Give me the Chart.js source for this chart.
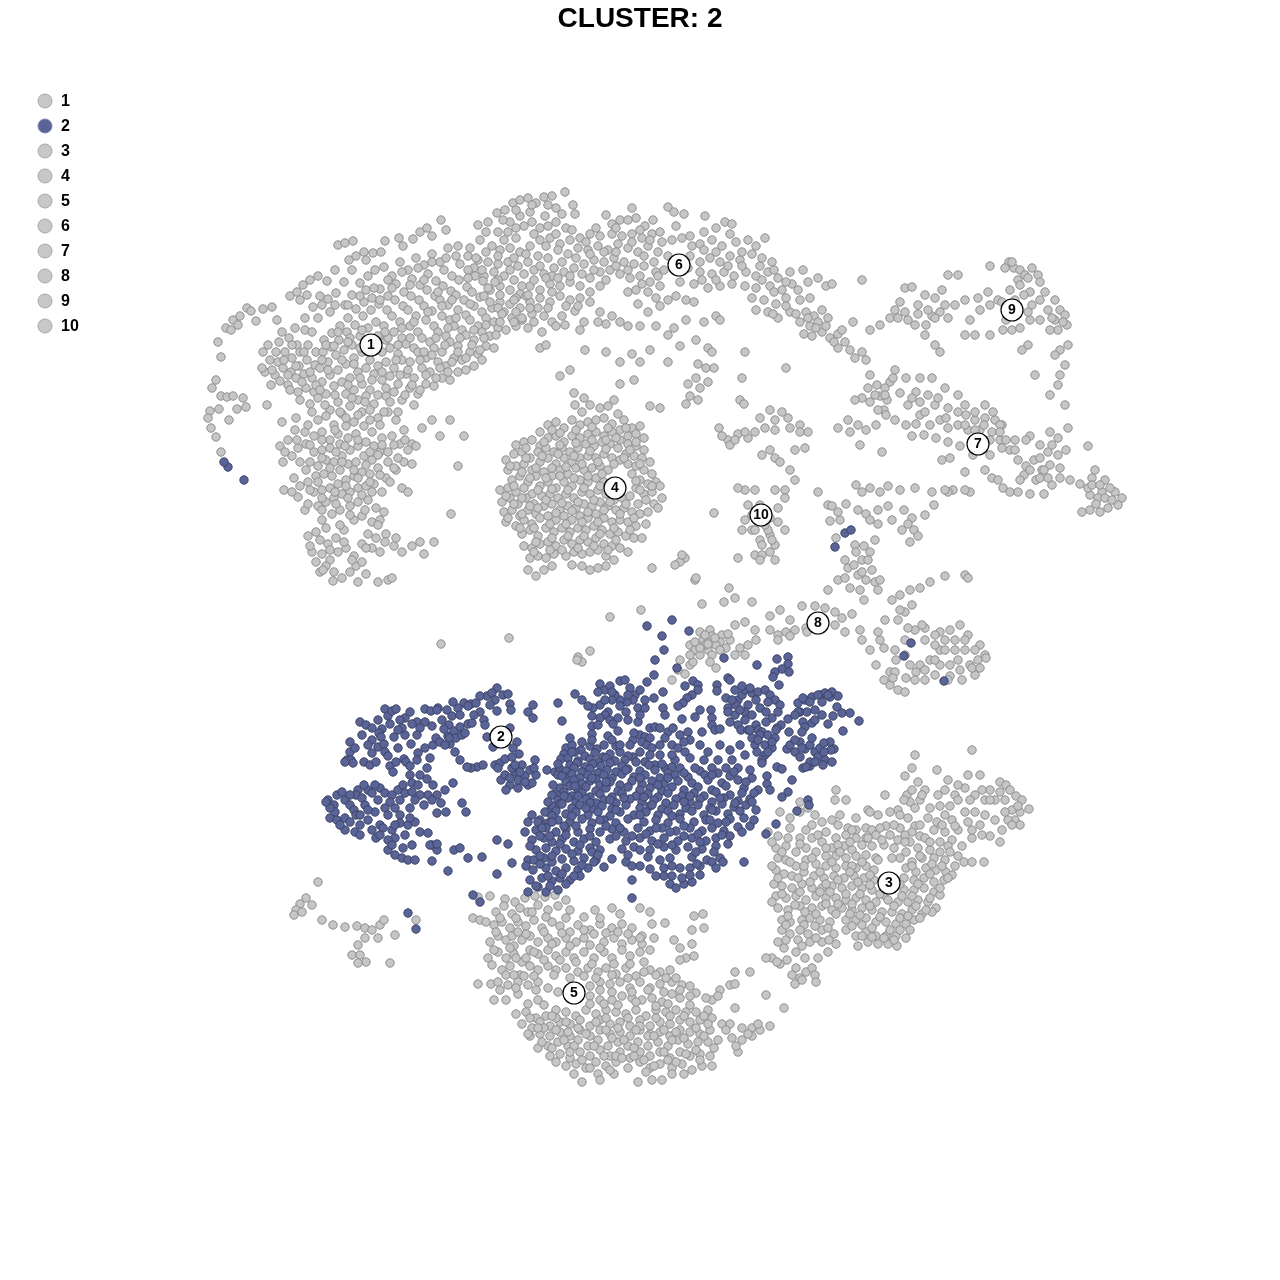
<!DOCTYPE html>
<html><head><meta charset="utf-8">
<script src="https://cdn.jsdelivr.net/npm/chart.js@4"></script>
<style>html,body{margin:0;padding:0;background:#fff}canvas{display:block}</style>
</head><body><canvas id="c" width="1280" height="1280"></canvas>
<script>
const clusterNames=["1","2","3","4","5","6","7","8","9","10"];
const labelX=[371,501,889,615,574,679,978,818,1012,761];
const labelY=[345,737,883,488,993,265,444,623,310,515];
const cluster1=[
218,342,221,357,226,328,233,320,240,316,247,308,251,311,256,321,263,309,272,307,277,320,238,325,231,330,
216,380,212,388,221,396,210,411,208,418,219,409,227,397,233,396,243,398,246,407,237,409,229,420,211,428,216,437,221,452,
267,405,263,352,270,360,265,372,262,368,276,352,279,342,289,338,297,345,290,296,297,292,303,285,310,280,318,276,327,281,335,270,
338,245,345,243,353,241,349,260,356,256,364,252,366,260,373,253,381,252,385,241,399,238,403,246,413,239,420,232,427,228,432,236,441,220,446,230,
300,300,307,295,313,307,320,296,328,299,336,293,344,282,352,270,360,283,368,276,375,270,384,267,392,276,400,262,408,270,416,258,424,265,432,254,440,262,448,248,456,256,
278,362,285,352,292,358,300,352,308,345,316,352,324,340,332,333,340,326,348,318,356,309,364,302,372,298,380,289,388,296,396,284,404,292,412,279,420,285,428,274,436,281,444,270,452,276,460,264,468,270,476,258,
275,375,283,368,291,372,299,366,307,360,315,365,323,352,331,347,339,340,347,332,355,325,363,316,371,310,379,304,387,310,395,300,403,306,411,296,419,300,427,290,435,296,443,286,451,291,459,280,467,287,475,276,483,281,
271,385,280,381,288,385,296,378,304,374,312,378,320,368,328,362,336,355,344,350,352,345,360,336,368,328,376,322,384,326,392,316,400,322,408,310,416,316,424,306,432,311,440,300,448,305,456,295,464,300,472,292,480,297,488,288,
298,392,306,388,314,392,322,382,330,375,338,370,346,364,354,358,362,352,370,360,378,336,386,340,394,332,402,338,410,326,418,332,426,320,434,326,442,316,450,320,458,310,466,315,474,306,482,312,490,302,498,308,
310,404,318,398,326,394,334,386,342,382,350,378,358,372,366,368,374,374,382,352,390,348,398,354,406,344,414,348,422,338,430,342,438,332,446,336,454,326,462,330,470,320,478,326,486,318,494,322,502,314,
330,410,338,402,346,394,354,390,362,384,370,390,378,366,386,362,394,368,402,360,410,362,418,352,426,358,434,348,442,352,450,342,458,346,466,335,474,340,482,332,490,336,498,328,506,330,514,322,522,318,
318,420,326,416,334,425,342,414,350,406,358,400,366,396,374,404,382,380,390,376,398,384,406,374,414,378,422,368,430,372,438,362,446,366,454,358,462,360,470,352,478,354,486,346,494,348,
282,422,296,418,305,432,314,436,322,432,330,440,338,434,346,426,354,422,362,412,370,410,378,418,386,396,394,392,402,400,410,388,418,394,426,384,434,386,442,378,450,380,458,372,466,370,474,366,482,360,
280,446,288,440,298,448,306,444,314,452,322,450,330,448,340,444,348,438,356,434,364,426,372,432,380,425,388,412,396,420,404,430,412,444,422,428,432,420,440,436,450,420,464,436,
283,462,292,456,300,462,310,462,318,466,326,460,334,462,342,456,350,450,358,446,366,442,374,446,382,438,392,436,400,444,408,450,416,446,
284,490,292,492,300,486,308,482,316,476,324,474,332,476,340,470,348,464,356,462,364,456,372,460,380,452,388,452,396,470,404,462,412,464,458,466,
298,497,305,510,314,492,322,490,330,488,338,484,346,480,354,476,362,472,370,474,378,468,386,478,394,468,402,488,408,492,
308,504,318,506,326,502,334,498,342,494,350,492,358,488,366,486,374,484,382,492,
322,520,332,514,340,510,350,506,358,502,368,500,376,508,384,512,
308,536,312,552,320,540,328,544,336,538,344,530,354,520,362,516,372,522,380,520,368,534,376,538,386,534,394,546,402,552,412,546,420,542,434,542,
316,562,322,554,330,560,338,552,346,548,354,556,362,544,372,548,380,552,320,572,326,566,334,572,342,578,350,572,358,582,366,574,378,582,388,580,392,578,
310,546,356,566,362,562,323,570,333,581,451,514,
305,330,318,318,330,312,345,305,352,295,366,290,380,300,392,288,410,285,424,280,438,292,452,300,468,278,482,270,495,282,
292,345,304,352,312,332,326,345,338,332,350,338,362,330,375,345,388,338,402,328,414,322,428,312,442,306,456,318,470,304,484,296,500,295,514,300,528,295,
268,345,282,332,295,328,305,318,322,305,335,305,348,305,360,296,374,288,388,280,402,272,418,268,432,262,446,258,458,246,470,248,
284,360,296,366,310,372,322,360,334,346,348,342,360,348,372,352,385,332,398,345,410,338,424,352,436,338,448,328,460,338,474,330,486,325,500,322,516,312,530,308,
272,370,288,375,302,382,316,385,328,370,342,360,354,364,368,352,382,372,396,360,408,370,420,360,432,355,445,345,458,352,472,345,484,338,496,335,
290,390,300,400,320,390,335,395,348,385,360,378,372,380,386,388,400,375,412,385,426,375,440,368,452,362,466,358,480,350,
312,412,325,405,340,412,352,398,365,402,378,395,390,402,405,395,420,390,436,378,448,372,
295,430,308,425,322,440,335,430,346,418,358,415,370,420,384,412,398,412,414,405,
285,452,297,440,310,445,322,458,336,452,345,446,358,440,370,452,382,445,394,445,405,440,
294,478,306,470,318,482,330,468,342,462,354,470,366,465,378,455,388,462,398,458,
310,490,322,498,335,492,346,486,358,478,370,482,380,475,390,482,
322,510,336,504,348,498,362,495,372,492,
316,532,326,528,340,525,350,515,365,510,378,525,
330,550,344,542,352,560,366,548,385,542,396,538,424,554,
];
const cluster6=[
478,225,488,222,497,213,505,210,513,203,520,200,528,198,536,203,544,197,552,196,565,192,556,208,573,205,575,214,545,216,530,212,520,216,510,222,
498,232,508,232,516,238,524,226,532,222,540,228,548,226,556,222,566,228,480,240,492,246,500,250,510,248,520,252,530,246,540,240,550,238,560,244,570,240,580,238,590,234,600,236,
606,215,612,224,620,220,632,208,636,218,645,226,653,220,668,207,674,212,684,214,705,216,725,222,732,224,
612,234,622,236,632,234,642,238,652,234,662,242,672,240,682,238,692,246,700,244,712,240,722,246,736,242,748,240,765,238,
468,256,478,260,488,262,498,264,508,262,518,266,528,262,538,256,548,258,558,250,568,254,578,248,588,250,598,246,608,250,618,244,628,248,638,252,648,246,658,252,668,256,690,256,700,262,710,258,720,262,730,256,740,260,752,254,762,258,772,262,
484,276,494,272,504,276,514,280,524,274,534,270,544,274,554,268,564,272,574,268,584,264,594,260,604,262,614,258,624,262,634,264,644,266,654,262,664,270,700,272,712,274,724,272,734,276,746,272,756,276,768,272,778,278,790,272,803,270,
490,290,500,286,510,290,520,294,530,286,540,290,550,284,560,286,570,282,580,286,590,278,600,272,610,270,620,274,630,278,640,276,650,282,660,286,680,282,694,284,708,288,720,286,745,286,756,288,770,286,782,290,792,284,818,278,826,286,832,284,
500,302,510,304,520,308,530,302,540,298,550,302,560,296,570,300,580,298,590,292,600,286,628,292,636,290,648,292,656,298,676,296,
752,298,764,300,776,304,786,298,800,300,810,298,756,310,768,312,778,318,790,312,806,312,814,316,822,310,828,318,
512,318,522,320,532,314,544,316,552,322,562,316,575,311,584,322,600,312,612,316,620,322,638,304,648,312,660,306,668,300,686,300,694,302,716,316,
528,328,542,332,556,326,580,330,606,324,628,326,640,326,656,326,674,328,686,320,704,322,720,320,
800,322,810,326,818,322,804,334,812,336,822,332,830,338,838,334,845,342,850,350,838,348,853,322,862,352,
540,348,546,345,585,350,606,352,632,354,650,350,668,335,680,346,696,340,708,348,712,352,745,352,773,314,786,368,
698,364,706,368,714,368,742,378,696,378,708,382,688,384,700,388,690,396,698,400,686,404,650,406,660,408,
570,370,560,376,620,362,640,362,668,362,574,393,584,398,620,384,634,380,740,400,744,404,
503,220,516,210,532,205,548,205,562,214,486,232,504,240,516,228,534,234,546,246,556,234,572,230,586,242,596,228,
616,228,628,220,640,230,650,240,660,232,676,226,690,236,704,232,716,228,730,234,742,252,756,246,
474,268,486,252,498,256,514,258,526,254,540,266,552,276,562,262,576,258,590,254,604,252,616,252,632,242,644,256,656,272,
704,250,716,252,728,266,742,266,760,266,774,270,786,282,
498,280,510,270,522,286,534,280,546,278,558,278,570,276,582,274,594,270,606,280,616,266,628,270,642,284,658,276,
688,268,702,280,716,280,732,284,762,280,774,292,786,306,798,290,808,282,
516,298,526,296,538,308,552,292,566,306,578,306,590,302,
492,308,504,312,516,326,534,322,548,308,565,325,598,322,
796,314,808,318,816,328,826,326,834,342,842,330,855,358,866,360,
];
const cluster4=[
575,405,582,412,590,405,600,408,608,406,614,400,618,414,624,420,632,428,640,426,
540,432,548,425,556,422,564,428,572,420,580,425,588,422,596,420,604,418,612,424,620,430,628,436,636,434,644,438,
516,445,524,442,532,440,540,446,548,438,556,436,564,442,572,436,580,438,588,434,596,432,604,436,612,432,620,440,628,444,636,446,644,450,
506,460,514,454,522,452,530,458,538,452,546,448,554,452,562,448,570,452,578,448,586,444,594,446,602,442,610,444,618,448,626,454,634,456,642,458,650,462,
508,470,516,466,524,464,532,470,540,462,548,458,556,464,564,458,572,462,580,458,588,456,596,458,604,454,612,458,620,460,628,464,636,466,644,470,652,474,
512,480,520,476,528,482,536,476,544,472,552,476,560,470,568,474,576,468,584,470,592,468,600,466,608,470,632,474,640,480,648,484,656,482,
500,490,508,488,516,492,524,488,532,494,540,486,548,482,556,488,564,482,572,486,580,480,588,482,596,478,604,482,636,488,644,494,652,492,660,486,
502,502,510,498,518,504,526,498,534,504,542,496,550,494,558,498,566,494,574,498,582,492,590,494,598,490,606,494,614,500,622,498,630,496,638,504,646,500,654,504,662,498,
504,512,512,510,520,516,528,510,536,514,544,506,552,504,560,510,568,506,576,508,584,504,592,506,600,502,608,506,616,510,624,508,632,512,640,514,648,512,658,508,
506,522,516,526,524,520,532,524,540,518,548,516,556,520,564,516,572,520,580,516,588,518,596,514,604,518,612,522,620,520,628,522,636,526,646,524,
522,534,530,530,538,536,546,528,554,532,562,528,570,532,578,528,586,530,594,526,602,530,610,534,618,532,626,536,634,538,642,538,
524,546,532,548,540,544,548,542,556,546,564,540,572,544,580,540,588,542,596,538,604,544,612,546,620,548,
530,558,538,556,546,558,554,554,566,556,574,552,582,554,590,552,598,550,606,556,614,560,628,552,
528,570,536,576,544,570,552,566,572,565,582,566,590,570,598,568,606,566,
552,430,560,433,576,430,592,427,608,428,626,428,636,442,
526,448,544,442,560,445,576,443,592,440,606,440,616,438,630,450,
510,466,526,458,542,456,558,454,574,456,590,451,606,449,624,458,640,464,
522,472,536,468,552,468,566,467,582,464,598,462,614,464,
514,486,530,478,546,478,560,476,574,478,588,476,602,474,636,481,
506,496,522,498,538,490,552,489,568,490,584,488,600,486,640,490,652,486,
514,504,530,506,546,500,562,503,578,502,594,500,610,502,626,504,
508,518,522,514,538,508,556,513,572,511,588,512,604,510,620,514,634,518,
520,528,534,528,550,524,566,524,582,522,598,522,614,528,630,530,
536,542,552,538,568,536,584,536,600,534,616,540,
534,552,550,550,562,550,578,548,594,546,608,550,
];
const cluster2=[
487,696,497,688,492,693,503,695,508,694,495,700,480,696,471,704,464,703,458,708,453,702,447,710,438,708,452,716,468,706,476,703,480,712,484,720,497,711,510,704,511,710,
449,725,454,731,460,727,448,736,456,738,462,735,468,724,444,729,450,744,465,733,472,723,485,725,
385,709,388,716,392,711,396,709,405,718,410,712,417,722,425,709,431,711,437,710,425,722,420,728,412,724,417,735,405,735,411,744,400,720,
360,722,366,725,382,729,379,733,381,737,372,740,368,745,378,747,372,753,394,737,398,748,425,748,433,745,436,738,440,742,449,738,445,745,455,752,460,760,477,767,471,768,467,767,483,765,495,765,500,763,498,768,
350,742,350,752,347,760,351,760,353,763,345,762,364,762,370,765,385,752,388,756,404,759,390,766,393,772,396,762,418,753,417,760,430,758,427,768,406,762,410,766,
328,800,337,795,342,792,334,805,345,800,330,818,337,820,345,818,350,805,358,790,356,795,354,810,362,798,368,790,365,805,372,793,380,788,385,793,378,800,385,808,392,795,398,790,403,785,410,775,412,783,420,775,427,779,433,785,428,795,437,795,441,803,445,790,420,795,415,800,405,793,410,808,395,808,400,815,388,815,375,812,368,820,380,825,372,830,360,825,355,832,345,830,340,825,356,815,
392,830,400,823,408,825,415,822,420,832,405,835,412,845,395,838,388,840,383,828,376,838,395,855,402,858,408,860,415,860,403,848,432,845,437,850,
453,783,462,803,466,812,437,813,446,812,428,833,430,845,437,844,454,850,460,848,468,858,482,857,432,861,448,871,497,840,508,844,512,863,528,860,497,874,
501,780,505,775,510,785,515,772,518,788,522,765,525,776,530,770,535,760,528,785,518,780,506,790,512,768,532,783,536,775,510,778,520,772,547,770,555,772,
487,737,493,747,510,728,517,742,513,748,519,754,505,759,512,757,533,705,528,712,533,718,558,703,562,721,575,694,
647,626,672,620,689,631,662,636,664,650,655,660,677,668,654,675,647,682,
600,684,605,690,610,686,620,681,625,680,630,688,635,695,640,690,633,700,627,702,638,708,645,708,620,700,615,695,612,700,608,712,600,705,593,708,588,706,592,716,605,715,600,718,610,720,620,706,626,712,618,718,592,726,592,734,608,736,613,724,618,731,
633,740,630,745,638,722,640,735,645,737,650,728,655,727,642,742,647,745,652,748,660,728,668,732,673,728,665,738,672,745,680,735,688,732,690,740,678,748,660,755,650,755,640,752,633,757,645,762,655,765,665,768,675,760,685,752,690,758,
726,698,728,708,735,690,738,700,742,695,745,690,748,705,752,693,758,692,765,690,770,695,775,700,780,705,735,715,745,712,752,715,760,708,766,712,772,718,756,725,745,720,738,725,730,722,728,712,741,730,758,730,762,732,
777,659,788,657,788,664,782,669,789,672,775,672,773,677,779,685,757,665,724,658,728,678,730,680,
693,681,698,685,685,686,698,690,717,685,717,691,742,686,663,692,654,698,692,695,687,698,683,703,678,706,663,708,665,715,682,719,695,717,700,710,711,710,712,718,712,725,702,732,715,730,720,729,
798,703,800,712,805,700,812,697,820,695,825,693,830,697,832,692,803,698,807,712,815,710,818,695,828,695,837,707,842,713,850,713,859,721,828,724,833,716,822,715,798,712,803,722,805,727,812,723,802,732,788,719,781,725,777,728,789,732,843,731,
787,749,790,745,795,752,800,742,805,749,800,757,810,745,815,752,818,757,820,748,825,760,823,765,830,742,834,749,824,743,831,750,810,766,803,768,810,762,806,767,
760,735,768,735,775,738,755,745,765,745,772,748,757,752,765,755,762,760,772,742,752,738,762,763,777,767,782,769,767,776,792,780,767,784,770,790,788,792,782,797,808,800,809,805,797,811,776,824,766,834,
566,748,572,745,581,750,590,746,597,749,616,746,564,754,575,752,585,756,595,753,603,757,610,754,620,752,628,756,561,759,568,758,578,761,590,759,598,762,606,758,615,761,625,760,
570,765,577,763,585,767,593,764,601,766,610,763,622,766,636,762,649,765,662,764,672,767,560,769,566,771,574,768,582,772,590,769,598,773,607,770,616,772,628,769,640,771,655,770,668,773,680,768,700,771,
558,775,565,777,572,774,580,778,588,775,596,779,604,775,612,778,622,774,634,777,645,775,660,778,675,775,688,777,705,775,718,773,730,776,566,782,574,780,582,784,590,781,600,785,610,782,620,785,632,781,642,784,652,781,664,784,678,781,692,783,708,780,722,783,738,780,752,778,
560,788,570,786,578,790,586,787,596,791,606,788,618,791,628,787,640,790,650,788,662,791,672,787,684,790,698,787,712,790,726,786,744,788,555,794,564,792,572,796,582,793,590,797,600,794,612,797,622,793,636,796,648,794,658,797,668,793,682,796,694,793,704,796,716,792,730,795,742,793,758,790,
558,800,568,798,576,802,586,799,596,803,604,800,616,803,630,799,642,802,654,800,666,803,676,799,690,802,700,799,712,802,724,798,738,801,750,799,552,806,560,804,572,808,580,805,592,809,602,806,612,809,626,805,640,808,650,806,662,809,674,805,686,808,698,805,710,808,722,804,734,807,746,805,
532,815,528,822,548,812,556,811,566,814,576,812,588,815,598,812,610,816,620,812,634,815,646,812,658,815,668,811,680,814,692,811,704,815,716,811,728,814,740,811,756,810,525,832,540,820,548,823,558,820,570,822,582,819,592,823,604,820,616,823,628,819,644,822,656,820,668,823,680,819,694,822,706,820,718,823,730,819,744,818,
536,830,546,828,556,832,566,829,578,832,590,829,600,832,612,829,624,832,638,828,650,831,662,828,676,831,690,828,702,831,712,828,724,831,738,827,750,826,532,840,544,838,552,842,562,839,574,842,584,839,596,842,610,839,626,841,640,838,652,841,664,838,678,841,692,838,706,841,716,838,730,836,
536,850,546,848,556,851,566,849,578,851,590,848,600,850,622,849,634,847,650,850,664,847,676,850,688,847,702,849,716,846,728,844,534,860,544,858,552,862,562,859,574,861,584,858,596,860,612,859,626,862,648,857,660,860,670,858,692,857,707,860,720,858,
533,870,546,868,556,871,566,868,578,870,588,868,604,867,632,866,650,869,664,868,672,866,680,868,690,868,700,866,712,862,723,862,
530,880,542,878,552,881,560,878,570,880,580,876,632,880,664,876,670,884,676,888,684,884,692,882,700,875,744,862,
528,892,538,887,546,892,558,890,632,898,473,895,480,902,
228,467,224,462,244,480,408,913,416,929,835,547,845,533,851,530,911,643,904,656,944,681,
378,720,390,724,402,728,372,728,362,735,355,748,376,762,384,744,398,730,432,726,442,720,460,715,474,715,490,705,
335,812,350,795,364,785,375,785,390,802,400,800,412,792,418,785,424,805,360,815,350,822,368,810,395,825,380,835,388,850,
330,808,326,802,360,835,392,845,410,818,432,800,515,765,525,782,534,768,
598,692,612,692,628,695,645,700,605,700,582,700,598,725,628,720,640,715,
736,705,756,700,768,702,750,688,732,700,740,710,766,722,748,730,778,712,
810,702,822,702,838,696,795,715,815,720,795,740,802,748,812,738,824,752,832,762,815,762,
758,740,768,752,776,730,750,730,
570,738,582,742,592,740,604,745,612,740,620,745,634,733,650,738,660,745,672,755,684,742,700,745,708,752,720,745,730,750,740,745,745,755,732,760,718,760,704,760,695,768,712,768,726,768,738,768,750,770,
553,785,552,795,548,802,545,812,538,822,572,752,558,764,
562,776,575,786,592,778,606,782,626,770,640,778,668,778,684,773,712,775,734,772,
564,796,578,796,590,803,610,800,624,798,644,797,658,785,690,796,720,798,746,782,754,793,
552,816,562,804,572,816,586,808,600,820,616,810,640,815,652,805,672,816,684,802,712,810,735,803,752,802,
542,828,552,822,564,826,576,826,590,836,606,826,620,828,632,836,656,828,670,832,684,826,698,834,710,820,726,822,742,832,754,820,
540,836,550,836,566,835,580,845,592,852,616,836,646,834,658,844,684,836,700,842,722,835,
530,846,540,856,552,856,560,844,572,854,582,865,598,855,628,855,640,850,672,845,696,852,714,852,
526,866,540,864,548,876,562,874,574,876,594,862,640,866,656,876,
536,886,550,886,566,884,690,875,682,878,672,876,697,864,716,868,
];
const cluster3=[
915,755,972,750,912,768,905,776,918,782,937,770,968,775,980,775,1000,782,1006,785,1010,790,1016,796,1022,800,1029,809,1020,812,1012,810,1005,812,990,790,982,790,975,795,965,788,955,795,945,790,938,795,
925,790,907,795,910,802,915,808,920,800,930,808,940,806,950,806,958,800,970,800,985,800,995,800,1005,800,1015,820,1020,825,1008,820,1002,830,1012,825,
904,800,898,810,890,812,885,795,868,810,846,800,836,790,835,800,856,818,870,812,878,815,900,815,908,818,915,826,928,818,937,822,945,815,952,820,965,812,975,812,985,815,995,820,
840,815,832,820,815,815,800,802,808,808,822,822,838,825,848,828,856,830,866,828,872,830,886,826,900,828,912,832,920,836,934,830,945,832,958,830,968,822,980,825,990,836,1000,842,984,862,
780,812,790,818,800,812,812,825,826,832,836,838,846,835,856,838,866,838,876,835,890,835,898,840,910,842,925,838,940,842,952,840,962,846,972,838,
768,832,778,836,790,828,800,838,812,838,822,842,832,848,844,846,852,850,862,845,872,846,884,845,894,848,906,852,918,848,930,850,940,852,958,856,964,862,972,862,
776,848,786,846,796,852,806,848,816,852,826,856,836,856,846,858,856,856,866,855,876,858,900,858,912,862,922,858,934,858,945,860,955,866,
778,858,786,860,796,866,806,860,816,864,826,866,836,868,846,866,856,868,866,866,874,870,906,868,916,872,926,868,936,870,946,872,952,875,
776,870,784,874,792,876,804,872,814,876,824,878,834,876,844,878,854,876,864,878,874,880,904,878,914,880,924,878,934,882,944,880,
774,884,782,886,792,888,802,884,812,888,822,888,832,886,842,888,852,886,862,888,872,890,884,895,894,888,904,890,914,890,924,888,934,892,940,895,
776,896,786,898,796,896,806,900,816,896,826,898,836,898,846,900,856,898,866,900,876,902,888,900,898,902,908,902,918,900,928,902,936,908,
778,908,788,910,800,906,812,908,822,906,832,910,842,908,852,910,862,908,872,910,882,912,892,912,902,914,912,910,922,914,932,912,
782,920,790,922,802,920,810,918,820,920,830,922,846,920,856,920,866,918,876,922,886,922,896,924,906,924,914,920,
782,930,790,934,798,940,808,934,822,930,834,934,846,930,856,936,866,932,876,936,886,936,896,936,906,938,
778,942,784,948,796,952,810,942,822,942,836,944,858,946,868,942,878,944,888,944,897,946,
772,958,787,960,805,958,818,958,828,952,796,968,792,975,806,972,812,968,800,978,795,984,802,980,815,975,816,982,780,964,
777,962,766,958,
912,790,922,795,948,780,958,785,990,800,1000,792,1018,806,
852,830,880,828,894,825,905,835,920,825,942,825,955,826,972,830,982,835,
788,838,806,830,818,835,838,845,850,842,868,838,882,840,905,842,930,842,948,846,
772,842,782,852,800,844,812,858,826,848,840,852,852,866,878,860,892,858,920,856,950,852,
772,866,790,862,804,866,820,872,832,862,850,872,862,862,870,875,912,866,932,864,942,866,
778,878,798,878,810,882,826,884,838,880,858,882,870,885,900,884,918,884,930,874,948,878,
782,894,800,892,820,892,830,892,846,894,860,894,880,894,902,896,912,896,930,898,940,888,
772,902,795,905,805,912,826,904,838,904,852,904,870,906,894,906,916,906,926,910,
788,916,804,925,816,914,836,914,850,914,860,915,880,917,900,918,908,916,920,918,
786,925,800,930,815,926,828,928,852,926,862,925,872,928,890,930,900,930,910,930,
786,940,802,946,816,938,829,940,862,936,872,937,884,938,894,940,
];
const cluster5=[
478,897,490,896,505,899,515,902,525,898,535,896,545,897,555,895,566,900,473,918,480,920,486,922,
496,912,504,906,512,914,520,908,528,912,538,905,548,910,558,906,570,910,584,917,595,910,612,908,620,914,640,908,650,912,
494,925,502,922,510,928,518,922,526,926,534,920,542,928,552,922,560,926,570,932,578,925,590,930,600,924,612,928,622,924,632,928,642,936,652,924,665,923,694,916,703,914,692,930,704,928,
490,942,498,936,506,940,514,946,522,940,530,936,538,942,548,938,556,942,566,938,576,942,584,938,594,934,604,942,614,938,622,944,632,940,642,944,654,938,674,940,680,948,692,944,686,958,694,956,
488,958,498,952,506,958,514,954,522,962,530,950,538,954,548,950,556,956,566,952,574,958,584,952,594,958,604,952,612,958,622,950,630,956,640,952,650,950,680,960,
478,984,492,965,502,970,510,966,520,975,530,966,538,970,548,966,556,970,566,968,578,972,588,968,598,972,606,968,616,974,626,968,636,976,650,970,660,972,670,970,
491,984,498,982,508,985,518,982,528,985,538,982,548,988,558,992,590,986,600,982,610,984,620,982,630,988,640,982,650,988,660,984,672,982,682,985,690,986,
494,1000,506,1000,518,994,528,1004,538,1000,590,996,600,1000,612,1000,622,996,632,998,642,1000,652,998,662,1002,672,994,680,998,696,993,712,1000,730,985,
516,1014,526,1012,536,1018,546,1016,556,1010,566,1012,576,1016,586,1010,596,1014,606,1010,616,1012,626,1014,636,1010,646,1016,656,1010,666,1012,676,1010,686,1012,696,1012,708,1010,
522,1024,532,1028,540,1022,550,1026,560,1022,570,1024,580,1020,590,1026,600,1020,610,1024,620,1022,630,1026,640,1020,650,1026,660,1022,670,1024,680,1020,690,1022,700,1020,712,1018,
530,1036,540,1034,550,1036,560,1032,570,1036,580,1030,590,1036,600,1030,610,1034,620,1032,630,1036,640,1030,650,1034,660,1032,670,1036,680,1030,690,1032,700,1034,710,1030,722,1024,730,1024,742,1028,752,1028,760,1030,770,1026,
538,1048,548,1046,558,1042,568,1046,578,1040,588,1046,598,1040,608,1046,618,1042,628,1046,638,1042,648,1046,658,1042,668,1046,678,1040,688,1044,698,1042,708,1042,718,1040,732,1038,742,1040,752,1036,
550,1056,560,1054,570,1058,580,1052,590,1056,600,1050,610,1056,620,1052,630,1058,640,1052,650,1056,660,1052,670,1058,680,1052,690,1056,700,1054,714,1048,738,1052,
566,1066,576,1064,586,1068,596,1062,606,1066,616,1062,628,1068,640,1062,650,1068,660,1064,672,1068,682,1064,692,1070,702,1066,712,1066,
574,1074,582,1082,598,1074,600,1080,614,1074,638,1082,646,1072,652,1080,662,1080,672,1074,684,1074,
735,972,750,972,735,984,766,995,784,1008,720,990,735,1008,
500,918,516,918,532,912,546,917,566,918,600,918,628,934,
496,932,512,936,526,934,544,932,562,933,584,930,606,933,618,932,
494,950,510,948,518,932,534,952,552,944,570,946,590,945,600,948,640,938,
506,975,516,958,526,958,544,960,560,960,576,962,592,964,614,964,630,964,644,962,
500,990,514,975,524,976,534,976,554,975,570,978,584,976,596,978,612,975,628,978,644,972,656,975,666,978,676,978,
536,990,516,988,600,990,612,992,632,992,648,990,664,992,680,990,690,996,706,998,718,996,
544,1005,556,1018,566,1022,590,1004,604,1004,618,1005,636,1002,656,1006,668,1004,690,1005,
530,1018,544,1028,552,1016,578,1028,596,1022,606,1018,628,1018,640,1026,656,1018,670,1016,684,1016,704,1016,
528,1034,538,1028,556,1030,568,1032,586,1034,606,1030,618,1028,636,1030,648,1036,664,1030,676,1032,696,1028,708,1024,748,1034,758,1024,
542,1042,552,1048,564,1040,574,1046,594,1046,612,1038,624,1040,634,1048,654,1036,672,1040,684,1038,704,1036,726,1030,736,1046,
556,1062,570,1052,582,1060,604,1056,616,1056,634,1056,644,1060,664,1052,676,1062,696,1050,710,1056,
590,1068,610,1070,622,1058,654,1066,668,1060,686,1054,700,1060,
];
const cluster7=[
848,420,858,425,838,428,850,432,866,430,876,425,884,410,880,396,887,400,890,382,895,370,906,378,900,393,908,405,916,392,920,378,932,378,945,388,958,395,
870,402,878,410,886,415,895,420,906,425,920,415,935,405,948,408,958,412,966,415,975,420,985,418,995,420,1002,425,940,420,948,428,958,425,968,430,980,430,992,432,1000,440,
860,445,882,452,912,436,924,435,936,438,948,442,960,446,973,455,990,455,1002,448,1015,440,1030,436,1050,432,1058,438,1068,428,1088,446,
1010,450,1018,460,1026,466,1034,460,1042,470,1050,465,1058,455,1066,450,1070,480,1080,484,1095,470,1105,480,1115,492,1122,498,1118,505,1108,508,1100,512,1090,510,
985,470,992,478,998,480,1003,488,1010,492,1018,492,1030,494,1044,494,1052,485,1060,478,1036,480,1024,475,1044,470,1060,468,1092,478,1102,492,1090,495,1098,498,1088,488,1082,512,
942,460,950,458,965,472,953,490,948,492,970,492,
856,485,862,492,870,488,880,492,888,486,900,490,915,488,932,492,945,490,965,490,
832,506,838,512,846,504,858,510,866,514,878,510,888,506,904,510,912,518,925,515,934,505,
870,520,878,524,892,520,908,524,914,530,918,536,910,542,902,530,
870,375,877,385,885,388,893,378,885,395,875,395,868,388,862,398,855,400,
912,398,920,402,928,395,938,398,925,412,916,424,930,425,946,418,965,425,975,412,
985,405,993,412,1000,425,984,425,965,405,975,430,1000,432,990,440,1006,440,
1015,450,1026,440,1040,445,1048,452,1040,458,1052,445,1020,480,1030,470,1040,478,1048,478,
1092,485,1100,485,1110,488,1096,504,1105,498,1112,500,
];
const cluster8=[
840,520,818,492,828,505,830,521,836,538,855,545,864,546,870,552,875,540,862,560,848,568,858,575,866,580,875,582,838,580,828,590,845,578,850,588,
860,590,878,590,880,580,864,600,
700,632,710,630,722,635,735,625,745,622,755,630,770,616,780,610,790,620,802,606,815,606,825,608,835,612,842,618,852,614,860,630,
690,645,695,650,703,640,712,636,720,642,730,640,740,648,748,645,770,630,778,635,786,632,795,630,806,628,835,625,845,632,
680,660,690,665,700,655,708,650,716,645,726,648,745,655,756,640,778,640,790,636,807,632,
672,680,685,674,693,662,712,655,710,662,716,668,735,655,
690,655,705,645,678,670,
862,640,870,650,880,640,876,665,884,648,896,660,890,672,905,640,915,630,925,628,940,632,950,630,960,625,968,635,980,645,985,655,
895,672,906,678,916,672,925,680,930,660,940,650,950,665,958,660,970,665,978,660,986,658,975,675,962,680,950,676,
890,685,898,690,905,692,920,665,935,675,
885,620,878,632,892,600,900,595,910,590,920,588,930,582,945,576,965,575,968,578,912,605,905,612,900,610,
898,620,908,628,922,625,935,645,945,640,955,650,965,640,
641,610,685,558,680,562,675,565,682,555,695,580,702,604,724,602,729,588,735,598,752,602,
856,552,868,560,872,570,862,572,854,565,845,560,
715,638,705,635,695,642,700,648,708,644,720,650,728,634,
925,640,935,635,945,650,955,640,965,650,975,650,960,670,940,665,925,670,910,665,915,680,905,655,895,650,
884,680,893,678,935,660,948,680,972,668,980,668,
];
const cluster9=[
1009,262,1014,268,1020,270,1025,275,1032,268,1028,278,1038,275,1005,268,990,266,1012,262,1018,280,1040,282,1045,292,1055,300,1060,310,1065,315,1067,325,1055,320,1058,330,1048,310,
870,330,880,325,890,318,895,310,900,302,905,288,912,287,925,295,935,298,942,290,955,305,965,300,978,298,988,292,998,300,1010,290,1020,285,1030,292,
898,318,908,320,918,314,926,325,932,316,940,312,948,318,958,275,948,275,970,320,980,310,990,305,1002,302,
1006,320,1012,330,1020,328,1030,320,1028,345,1022,350,1040,320,1050,330,
925,335,935,345,965,335,975,335,990,335,1003,330,
862,280,940,352,1068,345,1060,350,1055,355,1065,365,1060,375,1058,385,1050,395,1065,405,1035,375,
918,305,928,310,935,318,945,305,915,325,905,312,1015,300,1024,295,1032,305,1040,300,1028,312,1052,318,1063,322,
];
const cluster10=[
719,428,728,440,738,434,748,438,755,432,765,428,775,420,788,418,800,425,808,432,782,412,770,410,760,418,730,445,
762,455,770,450,775,458,745,490,738,488,755,490,780,462,795,450,805,448,790,470,795,480,785,490,775,490,
748,505,752,515,760,505,770,518,778,508,785,498,742,530,770,535,752,530,760,540,768,530,775,545,785,530,778,522,755,555,762,545,770,552,
762,520,745,520,738,558,775,560,714,513,
722,436,735,440,745,432,775,430,790,428,800,432,755,530,765,525,772,540,762,555,760,560,
];
const clusterStray=[
306,898,300,904,296,910,294,915,302,912,312,905,318,882,322,920,333,925,345,927,357,926,365,928,372,930,380,925,384,920,378,938,365,938,358,945,352,955,360,955,366,962,358,963,390,963,395,935,416,920,
441,644,509,638,578,657,582,662,590,651,577,660,610,617,652,568,696,578];

const allClusters=[cluster1,cluster2,cluster3,cluster4,cluster5,cluster6,cluster7,cluster8,cluster9,cluster10];
const highlighted=1;
const GRAY='#C6C6C6',GRAYE='#8C8C8C',BLUE='#5A6496',BLUEE='#3B4268';
const toPts=a=>{const o=[];for(let i=0;i+1<a.length;i+=2)o.push({x:a[i],y:a[i+1]});return o;};
const datasets=allClusters.map((arr,i)=>{
  const pts=toPts(i===0?arr.concat(clusterStray):arr);
  const h=i===highlighted;
  return {label:clusterNames[i],data:pts,showLine:false,pointRadius:4.2,pointHoverRadius:4.2,pointBorderWidth:1,
    pointBackgroundColor:h?BLUE:GRAY,pointBorderColor:h?BLUEE:GRAYE,order:h?1:2};
});
datasets.push({label:'centers',data:labelX.map((x,i)=>({x,y:labelY[i]})),showLine:false,pointRadius:11,pointHoverRadius:11,pointBorderWidth:1.2,pointBackgroundColor:'rgba(255,255,255,0.93)',pointBorderColor:'#000',order:0});
const TITLE_H=35.6;
const overlay={id:'overlay',afterDatasetsDraw(ch){
  const c=ch.ctx,sx=ch.scales.x,sy=ch.scales.y;
  c.save();c.fillStyle='#000';c.textAlign='center';c.textBaseline='middle';c.font='bold 14px "Liberation Sans"';
  clusterNames.forEach((n,i)=>c.fillText(n,sx.getPixelForValue(labelX[i]),sy.getPixelForValue(labelY[i])+0.5));
  clusterNames.forEach((n,i)=>{
    const y=101+i*25;
    c.beginPath();c.arc(45,y,7,0,Math.PI*2);c.fillStyle=i===highlighted?BLUE:'#C8C8C8';c.fill();
    c.lineWidth=1;c.strokeStyle=i===highlighted?'#7F86AC':'#A6A6A6';c.stroke();
    c.fillStyle='#000';c.textAlign='left';c.font='bold 16px "Liberation Sans"';c.fillText(n,61,y+0.5);
  });
  c.restore();
}};
new Chart(document.getElementById('c'),{type:'scatter',data:{datasets},plugins:[overlay],options:{
  responsive:false,animation:false,events:[],layout:{padding:0,autoPadding:false},
  plugins:{legend:{display:false},tooltip:{enabled:false},
    title:{display:true,text:'CLUSTER: 2',color:'#000',padding:{top:2,bottom:0},font:{family:'"Liberation Sans"',size:28,weight:'bold',lineHeight:1.2}}},
  scales:{x:{type:'linear',display:false,min:0,max:1280},y:{type:'linear',display:false,reverse:true,min:TITLE_H,max:1280}}
}});
</script></body></html>
